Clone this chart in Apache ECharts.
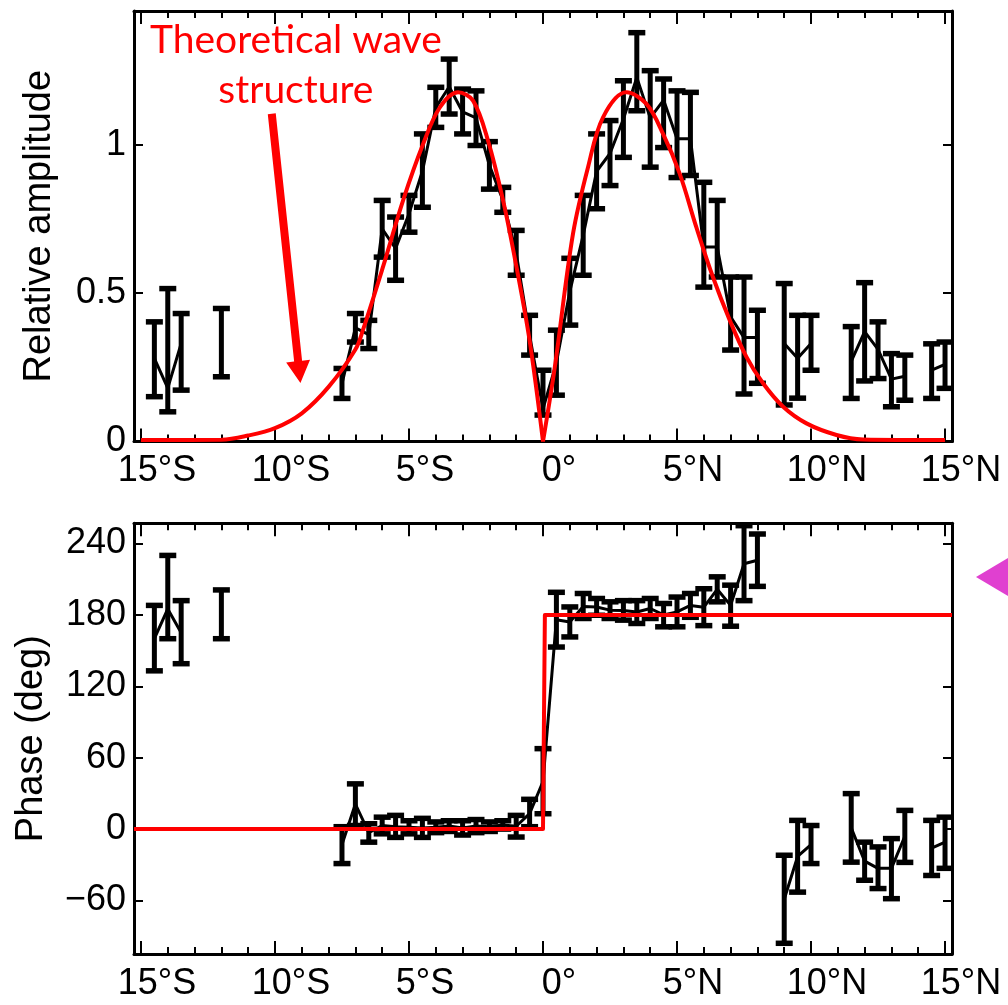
<!DOCTYPE html>
<html><head><meta charset="utf-8">
<script src="https://cdn.jsdelivr.net/npm/echarts@6/dist/echarts.min.js"></script>
<style>html,body{margin:0;padding:0;background:#fff;overflow:hidden}#c{width:1008px;height:1005px}</style>
</head><body><div id="c"></div><script>
// ---- data ----
const latitudes = [-14.5,-14,-13.5,-12,
  -7.5,-7,-6.5,-6,-5.5,-5,-4.5,-4,-3.5,-3,-2.5,-2,-1.5,-1,-0.5,0,
  0.5,1,1.5,2,2.5,3,3.5,4,4.5,5,5.5,6,6.5,7,7.5,8,
  9,9.5,10,11.5,12,12.5,13,13.5,14.5,15];
const ampCenter = [0.28,0.18,0.33,0.333,
  0.195,0.383,0.36,0.716,0.65,0.767,0.91,1.125,1.195,1.11,1.09,0.93,0.814,0.635,0.358,0.11,
  0.265,0.505,0.695,0.91,0.97,1.086,1.226,1.09,1.15,1.02,1.02,0.655,0.655,0.42,0.35,0.35,
  0.33,0.28,0.33,0.27,0.37,0.31,0.21,0.22,0.24,0.26];
const ampLow = [0.151,0.100,0.173,0.218,
  0.145,0.335,0.313,0.621,0.543,0.705,0.789,1.058,1.103,1.036,0.997,0.85,0.772,0.560,0.291,0.089,
  0.156,0.392,0.560,0.784,0.862,0.957,1.114,0.924,0.99,0.889,0.896,0.52,0.554,0.308,0.16,0.196,
  0.123,0.146,0.240,0.145,0.204,0.212,0.117,0.139,0.145,0.179];
const ampHigh = [0.403,0.515,0.431,0.448,
  0.246,0.431,0.408,0.812,0.756,0.829,1.036,1.193,1.288,1.187,1.181,1.01,0.856,0.711,0.425,0.240,
  0.375,0.617,0.829,1.036,1.081,1.215,1.377,1.249,1.221,1.181,1.176,0.873,0.812,0.554,0.554,0.442,
  0.532,0.425,0.425,0.387,0.535,0.403,0.296,0.291,0.329,0.335];
const phaseCenter = [160,185,165,180,
  -13,21,-3,3,2,1.5,1,1.5,2.5,1,2.5,2,3.5,2.4,13,40,
  176,174,187,186.7,184,183.8,182.4,185.4,180,182.5,188,186.5,201.5,188,223,226,
  -59,-23,-13,1,-27,-33,-33,-6,-16,-11];
const phaseLow = [133,160,139,160,
  -29,3,-11,-4,-7,-4,-7,-3,-2,-5,-3,-2,0,-6.7,2,12.9,
  153,161.5,177,179.7,177,175.6,172.8,177,170,170,178,171,191,170.5,192,204,
  -96,-53,-29,-27.8,-43,-50,-58.5,-28,-39,-33];
const phaseHigh = [188,230,192,201,
  2,38,4.5,10,11.5,7,9,6,7,7,8,6,7,11.5,25,67.6,
  199,186.7,198,193.8,191,192,192,193.8,189.6,195,198,202,212,205,255,248,
  -22,7.3,3,29.8,-11,-15,-8,15.7,7.3,10];
// theoretical wave structure (red curve), split at the equator
const theoryLatS = [-15,-12,-11,-10,-9,-8,-7,-6.72,-5.97,-5.22,-4.48,-3.85,-3.17,-2.61,-2.05,-1.49,-0.99,-0.5,0];
const theoryAmpS = [0.005,0.006,0.02,0.045,0.095,0.184,0.31,0.375,0.588,0.812,1.0,1.125,1.176,1.148,1.013,0.812,0.588,0.34,0.0];
const theoryLatN = [0,0.44,1.12,1.68,2.24,3.11,3.86,4.48,5.10,5.72,6.34,6.97,7.59,8.21,8.96,9.83,10.95,11.94,15];
const theoryAmpN = [0.0,0.25,0.70,0.924,1.092,1.176,1.137,1.036,0.902,0.722,0.554,0.408,0.285,0.196,0.117,0.061,0.022,0.007,0.005];
const stepLat = [-15.26,0,0.07,15.26];
const stepPhase = [0,0,180,180];
// axes
const xTickValues = [-15,-10,-5,0,5,10,15];
const xTickLabels = ['15°S','10°S','5°S','0°','5°N','10°N','15°N'];
const xMinorValues = [-15,-14,-13,-12,-11,-10,-9,-8,-7,-6,-5,-4,-3,-2,-1,0,1,2,3,4,5,6,7,8,9,10,11,12,13,14,15];
const ampTicks = [0,0.5,1];
const ampTickLabels = ['0','0.5','1'];
const phaseTicks = [-60,0,60,120,180,240];
const phaseTickLabels = ['\u221260','0','60','120','180','240'];

const X_MIN = -15.26, X_MAX = 15.26;
const FONT = "'Liberation Sans', Arial, Helvetica, sans-serif";

function pairs(xs, ys){ return xs.map((x,i)=>[x, ys[i]]); }
function withGaps(xs, ys){
  const out=[];
  for(let i=0;i<xs.length;i++){
    if(i>0 && xs[i]-xs[i-1]>0.6) out.push([(xs[i]+xs[i-1])/2,'-']);
    out.push([xs[i], ys[i]]);
  }
  return out;
}
function xAx(grid, pos, major, label){
  return {
    type:'value', gridIndex:grid, position:pos, min:X_MIN, max:X_MAX,
    axisLine:{show:major, onZero:false, lineStyle:{color:'#000', width:3}},
    axisTick:{show:true, inside:true, length: major?13:7, customValues: major?xTickValues:xMinorValues,
      lineStyle:{color:'#000', width:2}},
    axisLabel:{show:label, customValues:xTickValues, color:'#000', fontSize:36, fontFamily:FONT, margin:12,
      padding:[0,0,0,32],
      formatter:v=>{const k=xTickValues.indexOf(Math.round(v)); return k>=0?xTickLabels[k]:'';}},
    splitLine:{show:false}
  };
}
function yAx(grid, pos, min, max, ticks, labels, label, name, gap){
  return {
    type:'value', gridIndex:grid, position:pos, min:min, max:max,
    axisLine:{show:true, onZero:false, lineStyle:{color:'#000', width:3}},
    axisTick:{show:true, inside:true, length:9, customValues:ticks, lineStyle:{color:'#000', width:2}},
    axisLabel:{show:label, customValues:ticks, color:'#000', fontSize:36, fontFamily:FONT, margin:8,
      formatter:v=>{let k=-1; ticks.forEach((t,i)=>{if(Math.abs(t-v)<1e-6)k=i;}); return k>=0?labels[k]:'';}},
    splitLine:{show:false},
    name: name||'', nameLocation:'middle', nameRotate:90, nameGap:gap||0,
    nameTextStyle:{color:'#000', fontSize:38, fontFamily:FONT}
  };
}
function errRender(params, api){
  const x=api.value(0), lo=api.value(1), hi=api.value(2);
  const a=api.coord([x,lo]), b=api.coord([x,hi]);
  const hw=8.5;
  return {type:'group', children:[
    {type:'line', shape:{x1:a[0],y1:a[1],x2:b[0],y2:b[1]}, style:{stroke:'#000', lineWidth:5}},
    {type:'line', shape:{x1:a[0]-hw,y1:a[1],x2:a[0]+hw,y2:a[1]}, style:{stroke:'#000',lineWidth:5.5}},
    {type:'line', shape:{x1:b[0]-hw,y1:b[1],x2:b[0]+hw,y2:b[1]}, style:{stroke:'#000',lineWidth:5.5}}
  ]};
}

const chart = echarts.init(document.getElementById('c'), null, {renderer:'canvas'});
const option = {
  animation:false,
  backgroundColor:'#fff',
  grid:[
    {left:134, top:11, width:818, height:430.5},
    {left:134, top:523.3, width:818, height:430.7}
  ],
  xAxis:[
    xAx(0,'bottom',true,true), xAx(0,'bottom',false,false), xAx(0,'top',true,false), xAx(0,'top',false,false),
    xAx(1,'bottom',true,true), xAx(1,'bottom',false,false), xAx(1,'top',true,false), xAx(1,'top',false,false)
  ],
  yAxis:[
    yAx(0,'left',0,1.45,ampTicks,ampTickLabels,true,'Relative amplitude',75),
    yAx(0,'right',0,1.45,ampTicks,ampTickLabels,false),
    yAx(1,'left',-105,257,phaseTicks,phaseTickLabels,true,'Phase (deg)',83),
    yAx(1,'right',-105,257,phaseTicks,phaseTickLabels,false)
  ],
  series:[
    {type:'custom', xAxisIndex:0, yAxisIndex:0, renderItem:errRender,
      data: latitudes.map((x,i)=>[x, ampLow[i], ampHigh[i]]), encode:{x:0, y:[1,2]}, z:2},
    {type:'line', xAxisIndex:0, yAxisIndex:0, data:withGaps(latitudes, ampCenter), showSymbol:false,
      lineStyle:{color:'#000', width:3}, z:3},
    {type:'line', xAxisIndex:0, yAxisIndex:0, data:pairs(theoryLatS, theoryAmpS), smooth:0.35, showSymbol:false,
      lineStyle:{color:'#ff0000', width:4}, z:4},
    {type:'line', xAxisIndex:0, yAxisIndex:0, data:pairs(theoryLatN, theoryAmpN), smooth:0.35, showSymbol:false,
      lineStyle:{color:'#ff0000', width:4}, z:4},
    {type:'custom', xAxisIndex:4, yAxisIndex:2, renderItem:errRender,
      data: latitudes.map((x,i)=>[x, phaseLow[i], phaseHigh[i]]), encode:{x:0, y:[1,2]}, z:2},
    {type:'line', xAxisIndex:4, yAxisIndex:2, data:withGaps(latitudes, phaseCenter), showSymbol:false,
      lineStyle:{color:'#000', width:3}, z:3},
    {type:'line', xAxisIndex:4, yAxisIndex:2, data:pairs(stepLat, stepPhase), showSymbol:false,
      lineStyle:{color:'#ff0000', width:4, join:'round'}, z:4}
  ]
};
chart.setOption(option);

// annotations positioned through the top panel's scales
const P = (x,y)=>chart.convertToPixel({xAxisIndex:0, yAxisIndex:0},[x,y]);
const tail = P(-10.12, 1.104), tip = P(-9.05, 0.197);
const dx=tip[0]-tail[0], dy=tip[1]-tail[1], L=Math.hypot(dx,dy);
const ux=dx/L, uy=dy/L, nx=-uy, ny=ux;
const headLen=22, sw=4, hw=12;
const bx=tip[0]-ux*headLen, by=tip[1]-uy*headLen;
const arrowPts=[
  [tail[0]+nx*sw, tail[1]+ny*sw],[bx+nx*sw, by+ny*sw],[bx+nx*hw, by+ny*hw],[tip[0],tip[1]],
  [bx-nx*hw, by-ny*hw],[bx-nx*sw, by-ny*sw],[tail[0]-nx*sw, tail[1]-ny*sw]];
const t1=P(-9.22, 1.35), t2=P(-9.22, 1.181);
chart.setOption({graphic:[
  {type:'polygon', shape:{points:arrowPts}, style:{fill:'#ff0000'}, z:10},
  {type:'text', x:t1[0], y:t1[1], style:{text:'Theoretical wave', fill:'#ff0000', font:"39px Lato, 'Open Sans', sans-serif",
    textAlign:'center', textVerticalAlign:'middle'}, z:10},
  {type:'text', x:t2[0], y:t2[1], style:{text:'structure', fill:'#ff0000', font:"39px Lato, 'Open Sans', sans-serif",
    textAlign:'center', textVerticalAlign:'middle'}, z:10},
  {type:'polygon', shape:{points:[[976,577],[1040,539],[1040,615]]}, style:{fill:'#e040d0'}, z:10}
]});
</script></body></html>
